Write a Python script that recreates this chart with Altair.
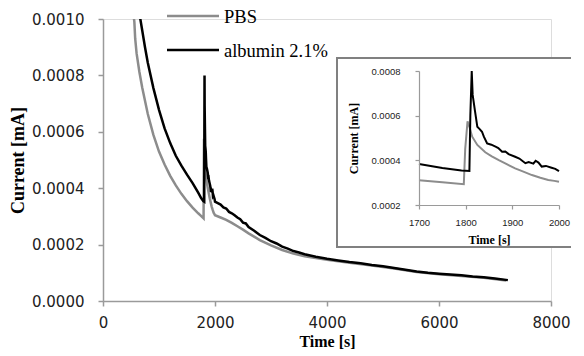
import altair as alt
import pandas as pd

# ---------------- data ----------------
series_names = ["PBS", "albumin 2.1%"]
series_colors = ["#8c8c8c", "#000000"]

pbs_time = [535, 560, 575, 600, 650, 700, 800, 900, 1000, 1100, 1200, 1300, 1400,
            1500, 1600, 1700, 1750, 1796, 1799, 1804, 1808, 1814, 1825, 1842, 1856,
            1871, 1888, 1906, 1925, 1942, 1960, 1977, 1990, 2000, 2100, 2200, 2300,
            2400, 2500, 2600, 2800, 3000, 3200, 3400, 3600, 3800, 4000, 4400, 4800,
            5200, 5600, 6000, 6400, 6800, 7200]
pbs_current = [0.00103, 0.00099, 0.00093, 0.000878, 0.000812, 0.000757, 0.000663,
               0.000589, 0.000530, 0.000484, 0.000444, 0.000410, 0.000380, 0.000354,
               0.000331, 0.000311, 0.000302, 0.000293, 0.000450, 0.000575, 0.000550,
               0.000506, 0.000469, 0.000436, 0.000418, 0.000401, 0.000383, 0.000364,
               0.000348, 0.000334, 0.000322, 0.000312, 0.000308, 0.000304, 0.000296,
               0.000288, 0.000277, 0.000265, 0.000253, 0.000240, 0.000216, 0.000197,
               0.000181, 0.000168, 0.000159, 0.000152, 0.000146, 0.000136, 0.000126,
               0.000115, 0.000103, 0.000095, 0.000089, 0.000082, 0.000073]

alb_time = [650, 700, 750, 800, 900, 1000, 1100, 1200, 1300, 1400, 1500, 1600, 1700,
            1750, 1791, 1808, 1810, 1813, 1815, 1820, 1825, 1830, 1835, 1839, 1846,
            1855, 1864, 1870, 1878, 1885, 1892, 1906, 1915, 1928, 1935, 1945, 1950,
            1956, 1963, 1972, 1984, 1992, 2000, 2050, 2100, 2150, 2200, 2250, 2300,
            2350, 2400, 2450, 2500, 2550, 2600, 2700, 2800, 2900, 3000, 3100, 3200,
            3300, 3400, 3500, 3600, 3800, 4000, 4200, 4400, 4600, 4800, 5000, 5200,
            5400, 5600, 5800, 6000, 6200, 6400, 6600, 6800, 7000, 7230]
alb_current = [0.00102, 0.00096, 0.00090, 0.000845, 0.000755, 0.000678, 0.000612,
               0.000560, 0.000515, 0.000480, 0.000448, 0.000418, 0.000384, 0.000366,
               0.000354, 0.000352, 0.000600, 0.000800, 0.000693, 0.000620, 0.000550,
               0.000540, 0.000528, 0.000506, 0.000476, 0.000470, 0.000461, 0.000455,
               0.000439, 0.000440, 0.000428, 0.000416, 0.000408, 0.000387, 0.000392,
               0.000385, 0.000398, 0.000390, 0.000372, 0.000375, 0.000367, 0.000362,
               0.000352, 0.000347, 0.000342, 0.000332, 0.000328, 0.000316, 0.000311,
               0.000304, 0.000296, 0.000290, 0.000278, 0.000275, 0.000262, 0.000249,
               0.000234, 0.000224, 0.000212, 0.000204, 0.000193, 0.000186, 0.000177,
               0.000172, 0.000166, 0.000157, 0.000150, 0.000144, 0.000138, 0.000134,
               0.000128, 0.000123, 0.000117, 0.000111, 0.000105, 0.000100, 0.000097,
               0.000094, 0.000091, 0.000087, 0.000084, 0.000080, 0.000074]

x_ticks = [0, 2000, 4000, 6000, 8000]
y_ticks = [0.0, 0.0002, 0.0004, 0.0006, 0.0008, 0.0010]
inset_x_ticks = [1700, 1800, 1900, 2000]
inset_y_ticks = [0.0002, 0.0004, 0.0006, 0.0008]

pbs = pd.DataFrame({"t": pbs_time, "I": pbs_current})
alb = pd.DataFrame({"t": alb_time, "I": alb_current})

W, H = 448, 282
AX = "#9a9a9a"

# ---------------- main plot ----------------
main_x = alt.X("t:Q", scale=alt.Scale(domain=[0, 8000], nice=False),
               axis=alt.Axis(values=x_ticks, format="d", title="Time [s]", grid=False,
                             labelFlush=False,
                             labelFont="DejaVu Sans", labelFontSize=15, labelColor="#222",
                             labelPadding=9, tickSize=5, tickColor=AX, domainColor=AX,
                             domainWidth=1.5, tickWidth=1.5,
                             titleFont="Liberation Serif", titleFontWeight="bold",
                             titleFontSize=16, titleColor="#000", titlePadding=3))
main_y = alt.Y("I:Q", scale=alt.Scale(domain=[0, 0.001], nice=False),
               axis=alt.Axis(values=y_ticks, format=".4f", title="Current [mA]", grid=False,
                             labelFlush=False,
                             labelFont="DejaVu Sans", labelFontSize=15, labelColor="#222",
                             labelPadding=14, tickSize=5, tickColor=AX, domainColor=AX,
                             domainWidth=1.5, tickWidth=1.5,
                             titleFont="Liberation Serif", titleFontWeight="bold",
                             titleFontSize=18, titleColor="#000", titlePadding=4))

gray_main = alt.Chart(pbs).mark_line(color=series_colors[0], strokeWidth=2.5, clip=True).encode(
    x=main_x, y=main_y)
black_main = alt.Chart(alb).mark_line(color=series_colors[1], strokeWidth=2.5, clip=True).encode(
    x=main_x, y=main_y)

leg0 = pd.DataFrame({"name": [series_names[0]]})
leg1 = pd.DataFrame({"name": [series_names[1]]})
leg_rule0 = alt.Chart(leg0).mark_rule(color=series_colors[0], strokeWidth=2.5).encode(
    x=alt.value(64), x2=alt.value(116), y=alt.value(-3))
leg_rule1 = alt.Chart(leg1).mark_rule(color=series_colors[1], strokeWidth=2.5).encode(
    x=alt.value(64), x2=alt.value(116), y=alt.value(31))
leg_text0 = alt.Chart(leg0).mark_text(align="left", baseline="middle", font="Liberation Serif",
                                      fontSize=18.5, color="#000").encode(
    x=alt.value(121), y=alt.value(-2), text="name:N")
leg_text1 = alt.Chart(leg1).mark_text(align="left", baseline="middle", font="Liberation Serif",
                                      fontSize=18.5, color="#000").encode(
    x=alt.value(121), y=alt.value(32), text="name:N")

main_layer = alt.layer(gray_main, black_main, leg_rule0, leg_rule1, leg_text0, leg_text1)

# ---------------- inset ----------------
box = alt.Chart(pd.DataFrame({"box": [0]})).mark_rect(fill="white", stroke="#808080",
                                                     strokeWidth=2).encode(
    x=alt.value(234), x2=alt.value(475), y=alt.value(39), y2=alt.value(228))

in_x = alt.X("t:Q", scale=alt.Scale(domain=[1700, 2000], range=[316, 456], nice=False),
             axis=alt.Axis(values=inset_x_ticks, format="d", title="Time [s]", grid=False,
                           orient="bottom", offset=-96, zindex=1, labelFlush=False,
                           labelFont="Liberation Sans", labelFontSize=9.5, labelColor="#222",
                           labelPadding=8, tickSize=4, tickColor=AX, domainColor=AX,
                           domainWidth=1.2, tickWidth=1.2,
                           titleFont="Liberation Serif", titleFontWeight="bold",
                           titleFontSize=12, titleColor="#000", titlePadding=8))
in_y = alt.Y("I:Q", scale=alt.Scale(domain=[0.0002, 0.0008], range=[186, 52], nice=False),
             axis=alt.Axis(values=inset_y_ticks, format=".4f", title="Current [mA]", grid=False,
                           orient="left", offset=-316, zindex=1, labelFlush=False,
                           labelFont="Liberation Sans", labelFontSize=9.5, labelColor="#222",
                           labelPadding=15, tickSize=4, tickColor=AX, domainColor=AX,
                           domainWidth=1.2, tickWidth=1.2,
                           titleFont="Liberation Serif", titleFontWeight="bold",
                           titleFontSize=12, titleColor="#000", titlePadding=10))

flt = (alt.datum.t >= 1700) & (alt.datum.t <= 2000)
gray_in = alt.Chart(pbs).transform_filter(flt).mark_line(
    color=series_colors[0], strokeWidth=2).encode(x=in_x, y=in_y)
black_in = alt.Chart(alb).transform_filter(flt).mark_line(
    color=series_colors[1], strokeWidth=2).encode(x=in_x, y=in_y)

inset_layer = alt.layer(box, gray_in, black_in)

chart = alt.layer(main_layer, inset_layer).resolve_scale(
    x="independent", y="independent").properties(
    width=W, height=H,
    autosize=alt.AutoSizeParams(type="none"),
    padding={"left": 95, "top": 11, "right": 20, "bottom": 48},
).configure_view(stroke=None).configure(background="white")

chart.save("out.html", embed_options={"renderer": "svg", "actions": False})
